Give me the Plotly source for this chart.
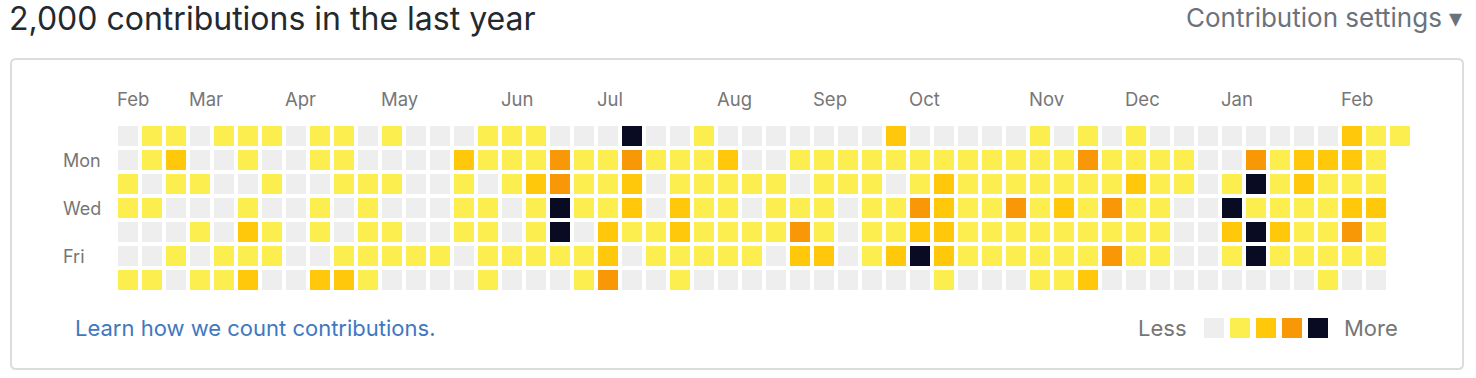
import plotly.graph_objects as go

# ---- data ----
weeks = list(range(54))
day_names = ["Sun", "Mon", "Tue", "Wed", "Thu", "Fri", "Sat"]
sun = [0,1,1,0,1,1,1,0,1,1,0, 1,0,0,0,1,1,1,0,0,0,4, 0,0,1,0,0,0,0,0,0,0,2, 0,0,0,0,0,1,0,1,0,1,0, 0,0,0,0,0,0,0,2,1,1]
mon = [0,1,2,0,0,1,0,0,1,1,0, 0,0,0,2,1,1,1,3,1,1,3, 1,1,1,2,0,0,1,1,1,1,1, 1,1,1,1,1,1,1,3,1,1,1, 1,0,0,3,1,2,2,2,1,None]
tue = [1,0,1,1,0,0,1,0,0,1,1, 1,0,0,1,0,1,2,3,1,1,2, 0,1,1,1,1,1,0,1,1,1,0, 1,2,1,1,1,1,1,1,1,2,1, 1,0,1,4,1,2,1,1,1,None]
wed = [1,1,0,0,0,1,0,0,1,0,1, 0,0,0,1,1,0,1,4,1,1,2, 0,2,1,1,0,1,1,1,0,1,1, 3,2,1,1,3,1,2,1,3,1,1, 0,0,4,1,1,1,1,2,2,None]
thu = [0,0,0,1,0,2,1,0,1,0,1, 1,0,0,1,1,0,1,4,0,2,1, 1,2,1,1,1,1,3,1,0,1,1, 2,2,1,1,1,1,1,1,1,1,1, 0,0,2,4,2,1,1,3,1,None]
fri = [0,0,1,0,1,1,1,0,0,1,1, 1,1,1,0,1,1,1,1,1,2,0, 1,1,1,1,1,0,2,2,0,1,2, 4,2,1,1,1,1,1,1,3,1,1, 0,0,1,4,1,1,1,1,1,None]
sat = [1,1,0,1,1,2,0,0,2,2,1, 0,0,0,0,1,0,0,0,1,3,0, 0,1,0,0,0,0,0,0,0,0,0, 0,1,0,0,0,1,1,2,0,0,0, 0,0,0,0,0,0,1,0,0,None]

month_labels = ["Feb", "Mar", "Apr", "May", "Jun", "Jul", "Aug", "Sep", "Oct", "Nov", "Dec", "Jan", "Feb"]
month_weeks = [0, 3, 7, 11, 16, 20, 25, 29, 33, 38, 42, 46, 51]
day_labels = ["Mon", "Wed", "Fri"]
day_label_rows = [1, 3, 5]
legend_levels = [0, 1, 2, 3, 4]
palette = ["#eeeeee", "#fcee4f", "#ffc80a", "#f99807", "#080b22"]

title_text = "2,000 contributions in the last year"

W, H = 1476, 378
FONT = "Inter, Roboto, 'Liberation Sans', sans-serif"


def px(x):
    return x / W


def py(y):
    return 1 - y / H


def step_scale(cols):
    n = len(cols)
    sc = []
    for i, c in enumerate(cols):
        sc.append([i / n, c])
        sc.append([(i + 1) / n, c])
    return sc


z = [sun, mon, tue, wed, thu, fri, sat]

fig = go.Figure()
fig.add_trace(go.Heatmap(
    z=z, x=weeks, y=list(range(7)),
    zmin=-0.5, zmax=4.5, colorscale=step_scale(palette),
    showscale=False, xgap=4, ygap=4, hoverongaps=False,
    xaxis="x", yaxis="y",
))
fig.add_trace(go.Heatmap(
    z=[legend_levels], x=legend_levels, y=[0],
    zmin=-0.5, zmax=4.5, colorscale=step_scale(palette),
    showscale=False, xgap=6, ygap=6, hoverinfo="skip",
    xaxis="x2", yaxis="y2",
))

ax = dict(visible=False, showgrid=False, zeroline=False, fixedrange=True)
fig.update_layout(
    width=W, height=H, autosize=False,
    margin=dict(l=0, r=0, t=0, b=0),
    paper_bgcolor="white", plot_bgcolor="white",
    showlegend=False,
    font=dict(family=FONT),
    xaxis=dict(domain=[px(116), px(1412)], range=[-0.5, 53.5], **ax),
    yaxis=dict(domain=[py(292), py(124)], range=[6.5, -0.5], **ax),
    xaxis2=dict(domain=[px(1201), px(1331)], range=[-0.5, 4.5], anchor="y2", **ax),
    yaxis2=dict(domain=[py(341), py(315)], range=[-0.5, 0.5], anchor="x2", **ax),
)

# panel box with rounded corners
x0, x1, y0, y1, r = 11, 1463, 59, 369, 5
path = (f"M {px(x0+r)},{py(y0)} L {px(x1-r)},{py(y0)} Q {px(x1)},{py(y0)} {px(x1)},{py(y0+r)} "
        f"L {px(x1)},{py(y1-r)} Q {px(x1)},{py(y1)} {px(x1-r)},{py(y1)} "
        f"L {px(x0+r)},{py(y1)} Q {px(x0)},{py(y1)} {px(x0)},{py(y1-r)} "
        f"L {px(x0)},{py(y0+r)} Q {px(x0)},{py(y0)} {px(x0+r)},{py(y0)} Z")
fig.add_shape(type="path", path=path, xref="paper", yref="paper",
              line=dict(color="#dcdcdc", width=2), fillcolor="rgba(0,0,0,0)", layer="below")

ann = []
ann.append(dict(text=title_text, x=px(7), y=py(19), xref="paper", yref="paper",
                xanchor="left", yanchor="middle", showarrow=False,
                font=dict(size=32, color="#24292e", family=FONT)))
ann.append(dict(text="Contribution settings ▾", x=px(1464), y=py(17), xref="paper", yref="paper",
                xanchor="right", yanchor="middle", showarrow=False,
                font=dict(size=26, color="#6a737d", family=FONT)))
for lab, wk in zip(month_labels, month_weeks):
    ann.append(dict(text=lab, x=wk - 0.5 + 2 / 24, xshift=-3, y=py(99), xref="x", yref="paper",
                    xanchor="left", yanchor="middle", showarrow=False,
                    font=dict(size=18.5, color="#767676", family=FONT)))
for lab, row in zip(day_labels, day_label_rows):
    ann.append(dict(text=lab, x=px(61), y=row, xref="paper", yref="y",
                    xanchor="left", yanchor="middle", showarrow=False,
                    font=dict(size=18, color="#767676", family=FONT)))
ann.append(dict(text="Learn how we count contributions.", x=px(73), y=py(328),
                xref="paper", yref="paper", xanchor="left", yanchor="middle", showarrow=False,
                font=dict(size=22, color="#4078c0", family=FONT)))
ann.append(dict(text="Less", x=px(1189), y=py(328), xref="paper", yref="paper",
                xanchor="right", yanchor="middle", showarrow=False,
                font=dict(size=22, color="#767676", family=FONT)))
ann.append(dict(text="More", x=px(1342), y=py(328), xref="paper", yref="paper",
                xanchor="left", yanchor="middle", showarrow=False,
                font=dict(size=22, color="#767676", family=FONT)))
fig.update_layout(annotations=ann)

fig.write_html("out.html", config={"displayModeBar": False},
               post_script="document.body.style.margin='0';document.body.style.overflow='hidden';")
